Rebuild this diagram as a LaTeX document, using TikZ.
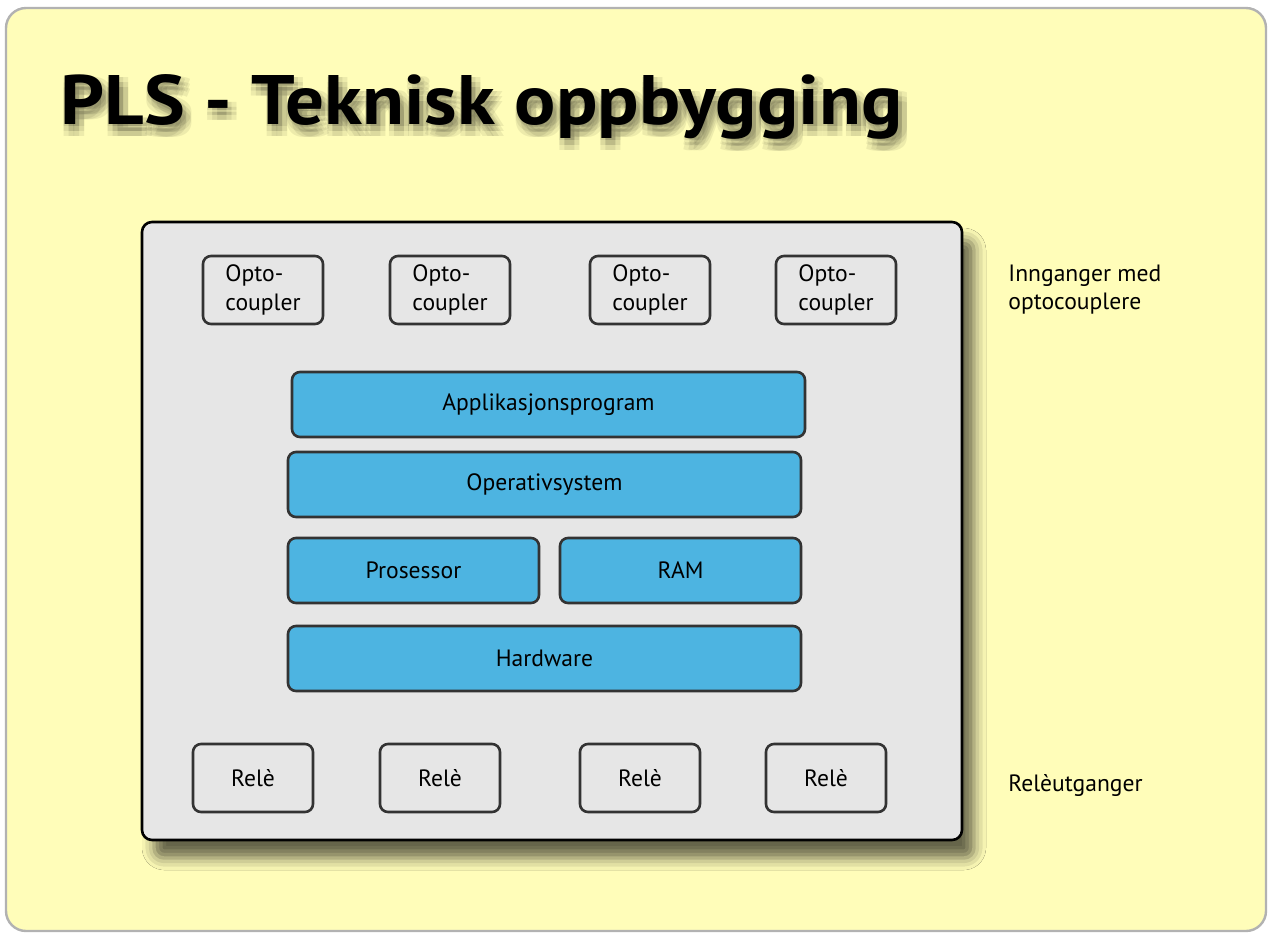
\documentclass[tikz,border=0pt]{standalone}
\usepackage{fontspec}
\setmainfont{PT Sans}
\newfontfamily\titlefont[FakeStretch=1.1]{PT Sans}
\usetikzlibrary{shadows.blur}

\definecolor{plsyellow}{HTML}{FFFDB9}
\definecolor{plsgray}{HTML}{E6E6E6}
\definecolor{plsblue}{HTML}{4DB4E1}
\definecolor{plsedge}{HTML}{333333}

\begin{document}
\begin{tikzpicture}[x=0.5pt, y=-0.5pt,
  smallbox/.style={draw=plsedge, line width=1.3pt, rounded corners=4pt, fill=plsgray,
    minimum width=60pt, minimum height=34pt, inner sep=0pt, align=left,
    font=\fontsize{11.8}{14.5}\selectfont},
  layer/.style={draw=plsedge, line width=1.3pt, rounded corners=4pt, fill=plsblue,
    minimum height=32.5pt, inner sep=0pt, font=\fontsize{11.8}{13}\selectfont},
  sidelabel/.style={inner sep=0pt, align=left, font=\fontsize{11.8}{14}\selectfont},
  titletext/.style={inner sep=0pt, anchor=base west, font=\titlefont\fontsize{35}{40}\selectfont\bfseries}]
  \useasboundingbox (0,0) rectangle (1271,934);

  % Background card
  \draw[rounded corners=10pt, fill=plsyellow, draw=black!30, line width=1.2pt] (6,8) rectangle (1266,931);

  % Title with soft shadow
  \foreach \dx in {1,6,11}
    \foreach \dy in {5,10,15}
      \node[titletext, text=black, text opacity=0.07] (tsh) at (58+\dx,121+\dy) {PLS - Teknisk oppbygging};
  \node[titletext] (title) at (60,124) {PLS - Teknisk oppbygging};

  % PLC housing
  \node[draw=black, line width=1.3pt, rounded corners=5pt, fill=plsgray,
    minimum width=410pt, minimum height=309pt,
    blur shadow={shadow xshift=6pt, shadow yshift=-9pt, shadow opacity=60, shadow blur radius=6pt}]
    (plc) at (552,531) {};

  % Inputs
  \node[smallbox] (opt1) at (263,290) {Opto-\\coupler};
  \node[smallbox] (opt2) at (450,290) {Opto-\\coupler};
  \node[smallbox] (opt3) at (650,290) {Opto-\\coupler};
  \node[smallbox] (opt4) at (836,290) {Opto-\\coupler};

  % Software / hardware layers
  \node[layer, minimum width=256.5pt] (app) at (548.5,404.5) {Applikasjonsprogram};
  \node[layer, minimum width=256.5pt] (os)  at (544.5,484.5) {Operativsystem};
  \node[layer, minimum width=125.5pt] (cpu) at (413.5,570.5) {Prosessor};
  \node[layer, minimum width=120.5pt] (ram) at (680.5,570.5) {RAM};
  \node[layer, minimum width=256.5pt] (hw)  at (544.5,658.5) {Hardware};

  % Outputs
  \node[smallbox] (rel1) at (253,778) {Relè};
  \node[smallbox] (rel2) at (440,778) {Relè};
  \node[smallbox] (rel3) at (640,778) {Relè};
  \node[smallbox] (rel4) at (826,778) {Relè};

  % Side labels
  \node[sidelabel, anchor=west] (inlbl) at (1008,290) {Innganger med\\optocouplere};
  \node[sidelabel, anchor=base west] (outlbl) at (1008,791) {Relèutganger};

\end{tikzpicture}
\end{document}
